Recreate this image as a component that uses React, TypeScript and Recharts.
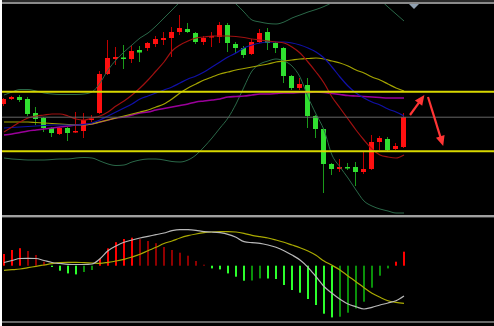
import React from 'react';
import { ComposedChart, Bar, Line, XAxis, YAxis, ReferenceLine } from 'recharts';

// ---------- data (price units of the main panel, oscillator units of the lower panel) ----------
const barIndex = Array.from({ length: 51 }, (_, i) => i);

const opens = [110, 115, 117, 115, 101, 96, 86, 80, 86, 81.5, 83, 94, 101, 140, 155, 156.5, 155, 164, 166, 170, 174, 176, 182, 185, 181, 172, 176.5, 177, 189, 170, 166, 160, 172, 182, 171, 166, 138, 126, 129, 98, 85, 50, 45, 47, 47, 42, 45, 72, 75, 65, 67];
const closes = [115, 117, 114, 100, 95, 86, 81, 86, 81, 83, 94, 95.5, 140, 156, 157, 155, 163, 161.5, 171, 175, 176, 182, 186, 182, 172, 176, 178, 189, 171, 166, 159, 172, 181, 171, 166, 138, 126, 130, 98, 85, 50, 45, 47, 45.5, 42, 45, 72, 76, 64, 68, 97];
const highs = [116, 118, 119, 117, 107, 97, 87, 87, 87, 102, 101, 99, 143, 174, 167, 169, 169, 168, 172, 178, 182, 187, 199, 191, 182, 178, 182, 192, 191, 172, 168, 175, 185, 186, 172, 167, 139, 136, 136, 99, 86, 51, 55, 51, 52, 62, 79, 78, 77, 71, 101];
const lows = [108, 114, 112, 98, 89, 82, 77, 79, 73, 81, 76, 92, 100, 139, 149, 145, 151, 152, 163, 167, 169, 157, 179, 181, 170, 169, 167, 171, 162, 161, 156, 159, 171, 164, 161, 131, 124, 124, 86, 76, 21, 39, 42, 44, 28, 40, 44, 64, 63, 64, 66];

const bbUpper = [119, 122, 124.5, 124.5, 123, 121, 120, 119.5, 119.5, 119.5, 120, 122, 131, 144, 154, 162, 169, 176, 181, 188, 196, 204, 212, 218, 219, 219, 219, 218, 216, 210, 202, 194, 192, 190.5, 190, 192, 196, 199, 202, 204.5, 207.5, 211.5, 217, 220, 220, 219, 217, 214, 207, 200, 193];
const bbMiddle = [86, 86.5, 87, 87.5, 88, 88.5, 89, 89, 89, 89, 89.5, 91, 94, 98, 102, 106, 110, 115, 118, 121, 124, 127, 131, 135, 138, 142, 147, 152, 157, 161, 166, 169, 171, 172, 172, 172, 171, 169, 166, 162, 156, 147, 137, 128, 121, 116, 112, 109, 105, 102, 98];
const bbLower = [56, 55, 54.5, 54, 54, 54, 54.5, 55, 55, 56, 56.5, 56, 53, 50, 48.5, 49, 52, 54, 55, 55, 54, 52.5, 52, 54, 59, 67, 76, 86, 96, 110, 127, 143, 150, 153, 155, 153, 148, 137, 117, 100, 84, 59, 47, 36, 24, 13, 8, 5, 3, 1, 1];
const maFast = [82, 87, 92, 96, 98, 99, 100, 100, 98, 95, 94, 96, 98, 102, 108, 113, 119, 126, 134, 143, 152, 163, 169, 173, 176, 177, 178, 178, 178, 177.5, 176.5, 175, 174, 173, 172, 171, 167, 161, 152, 142, 131, 117, 106, 95, 84, 74, 65, 59, 57, 56, 59];
const maSlow = [92, 92, 92, 92, 91.5, 91, 90.5, 90, 89.5, 89, 89, 90, 92, 94, 96, 98, 100, 102, 104, 107, 110, 115, 121, 126, 130, 134, 137, 140, 142, 144, 145.5, 147, 148.5, 150, 152, 153, 154, 155, 155.5, 156, 155, 153, 151, 148, 144, 141, 137, 134, 130, 126, 123];
const maLong = [79, 80, 81.5, 83, 84, 85, 86, 87, 88, 89, 89.5, 90, 92, 94, 96, 97, 99, 101, 102, 104, 105.5, 107, 108.5, 110, 112, 113, 114, 115, 117, 117.5, 118, 119, 120, 120, 120.5, 121, 121, 121.5, 121.5, 122, 121.5, 120.5, 119.5, 118.5, 118, 117.5, 117, 116.5, 116, 116, 116];

const levelUpper = 122.2;
const levelMid = 96.8;
const levelLower = 62.8;

const arrows = [
  { from: { x: 50.75, y: 99 }, to: { x: 52.55, y: 119 } },
  { from: { x: 53.0, y: 117 }, to: { x: 54.9, y: 68 } },
];

const histogram = [11.7, 15.7, 17.5, 14.7, 10.7, 4, -1.3, -5, -7.7, -8.7, -6.3, -4.3, 6.7, 17.3, 23.5, 26.7, 28, 26.5, 24.7, 22.5, 18.7, 15.7, 13, 10, 4.7, 1, -2.7, -3.7, -7.7, -11, -15, -14.8, -12.7, -12.8, -13.3, -19.3, -24.3, -27, -33.3, -39.3, -48, -51.7, -51, -47, -42.7, -36, -22, -10, -2.7, 4, 14];
const macdLine = [3.2, 5.2, 7.2, 7.4, 7.2, 5.2, 3.2, 2.2, 1.4, 1.2, 1.2, 1.7, 7, 15, 19.7, 23.4, 25.7, 27.7, 29.4, 31, 32.7, 35, 36, 36, 35.4, 34, 33.7, 33, 31.4, 28.4, 24, 23, 22.4, 20.7, 18.4, 15, 10.7, 5.7, -1.6, -11, -20.8, -27.6, -33.6, -38.3, -41, -43.3, -41.6, -39.3, -37.3, -35, -30.3];
const signalLine = [-4.6, -4, -3.3, -2, -0.6, 0.7, 2, 3, 3.4, 3.4, 3, 2.7, 2.4, 3.4, 4.7, 6.4, 8.7, 11.4, 15, 18.4, 22.2, 24.7, 27.7, 30, 31.7, 33, 33.7, 34, 34, 33.7, 32.4, 30.4, 29, 27.7, 25.7, 23.4, 20.7, 18, 14.7, 10.4, 4.7, 0.4, -4.3, -10.3, -16, -22, -27.6, -31.6, -35, -36.6, -37.6];

const axisTicks = [0, 8, 16, 24, 32, 40, 48, 56];

// ---------- styling ----------
const W = 494;
const X_DOMAIN: [number, number] = [-0.5, 61.25];
const UP = '#ff1010';
const DOWN = '#30e030';
const WICK_UP = '#c00000';
const WICK_DOWN = '#1a9a1a';
const HIST_UP = '#ff0000';
const HIST_UP_FADE = '#900000';
const HIST_DN = '#2cff2c';
const HIST_DN_FADE = '#0a900a';

const histColor = (i: number) => {
  const v = histogram[i];
  const prev = i > 0 ? histogram[i - 1] : v - 1;
  if (v >= 0) return v >= prev ? HIST_UP : HIST_UP_FADE;
  return v <= prev ? HIST_DN : HIST_DN_FADE;
};

const priceData = barIndex.map((i) => ({
  i,
  range: [lows[i], highs[i]],
  open: opens[i],
  close: closes[i],
  high: highs[i],
  low: lows[i],
  bbU: bbUpper[i],
  bbM: bbMiddle[i],
  bbL: bbLower[i],
  maF: maFast[i],
  maS: maSlow[i],
  maL: maLong[i],
}));

const oscData = barIndex.map((i) => ({
  i,
  hist: histogram[i],
  histColor: histColor(i),
  macd: macdLine[i],
  signal: signalLine[i],
}));

const Candle = (props: any) => {
  const { x, y, width, height, payload } = props;
  if (!payload || x == null || y == null) return null;
  const { open, close, high, low } = payload;
  const top = Math.min(y, y + height);
  const h = Math.abs(height);
  const k = high > low ? h / (high - low) : 0;
  const py = (v: number) => top + (high - v) * k;
  const up = close >= open;
  const bodyTop = py(Math.max(open, close));
  const bodyH = Math.max(1.5, Math.abs(py(open) - py(close)));
  const bx = Math.round(x + width / 2 - 2.5);
  const cx = bx + 2.5;
  return (
    <g>
      <line x1={cx} x2={cx} y1={top} y2={top + h} stroke={up ? WICK_UP : WICK_DOWN} strokeWidth={1} />
      <rect x={bx} y={bodyTop} width={5} height={bodyH} fill={up ? UP : DOWN} />
    </g>
  );
};

const HistBar = (props: any) => {
  const { x, y, width, height, payload } = props;
  if (!payload || x == null || y == null) return null;
  const top = Math.min(y, y + height);
  const h = Math.max(1, Math.abs(height));
  const bx = Math.round(x + width / 2 - 1);
  return <rect x={bx} y={top} width={2} height={h} fill={payload.histColor} />;
};

const Arrow = (props: any) => {
  const { x1, y1, x2, y2 } = props;
  if ([x1, y1, x2, y2].some((v) => v == null || Number.isNaN(v))) return null;
  const dx = x2 - x1;
  const dy = y2 - y1;
  const len = Math.hypot(dx, dy) || 1;
  const ux = dx / len;
  const uy = dy / len;
  const L = 10;
  const hw = 4.5;
  const bx = x2 - ux * L;
  const by = y2 - uy * L;
  const pts = `${x2},${y2} ${bx - uy * hw},${by + ux * hw} ${bx + uy * hw},${by - ux * hw}`;
  return (
    <g>
      <line x1={x1} y1={y1} x2={bx + ux * 1} y2={by + uy * 1} stroke="#ff3535" strokeWidth={2.2} />
      <polygon points={pts} fill="#ff3535" />
    </g>
  );
};

export default function App() {
  return (
    <div style={{ position: 'absolute', left: 0, top: 0, width: W, height: 326, background: '#000', overflow: 'hidden' }}>
      <div style={{ position: 'absolute', left: 0, top: 0, width: W, height: 2, background: '#2a2a2a' }} />
      <div style={{ position: 'absolute', left: 0, top: 2, width: W, height: 2, background: '#8a8a8a' }} />

      <div style={{ position: 'absolute', left: 0, top: 0 }}>
        <ComposedChart width={W} height={215} data={priceData} margin={{ top: 4, right: 0, bottom: 1, left: 0 }}>
          <XAxis dataKey="i" type="number" domain={X_DOMAIN} hide allowDataOverflow />
          <YAxis type="number" domain={[0, 210]} hide allowDataOverflow />
          <Bar dataKey="range" barSize={5} shape={Candle} isAnimationActive={false} />
          <Line dataKey="bbU" type="monotone" stroke="#2a6848" strokeWidth={1} dot={false} isAnimationActive={false} />
          <Line dataKey="bbL" type="monotone" stroke="#2a6848" strokeWidth={1} dot={false} isAnimationActive={false} />
          <Line dataKey="maL" type="monotone" stroke="#9a009a" strokeWidth={1.6} dot={false} isAnimationActive={false} />
          <Line dataKey="maS" type="monotone" stroke="#a4a400" strokeWidth={1.2} dot={false} isAnimationActive={false} />
          <Line dataKey="bbM" type="monotone" stroke="#1010a8" strokeWidth={1.2} dot={false} isAnimationActive={false} />
          <Line dataKey="maF" type="monotone" stroke="#a01010" strokeWidth={1.2} dot={false} isAnimationActive={false} />
          <ReferenceLine y={levelMid} stroke="#666666" strokeWidth={1} />
          <ReferenceLine y={levelUpper} stroke="#d8d800" strokeWidth={2} />
          <ReferenceLine y={levelLower} stroke="#d8d800" strokeWidth={2} />
          {arrows.map((a, k) => (
            <ReferenceLine key={k} segment={[a.from, a.to]} shape={Arrow} ifOverflow="visible" />
          ))}
        </ComposedChart>
      </div>

      <div style={{ position: 'absolute', left: 0, top: 215, width: W, height: 2, background: '#a0a0a0' }} />
      <div style={{ position: 'absolute', left: 0, top: 217, width: W, height: 1, background: '#404040' }} />

      <div style={{ position: 'absolute', left: 0, top: 218 }}>
        <ComposedChart width={W} height={107} data={oscData} margin={{ top: 0, right: 0, bottom: 0, left: 0 }}>
          <XAxis
            dataKey="i"
            type="number"
            domain={X_DOMAIN}
            allowDataOverflow
            ticks={axisTicks}
            interval={0}
            tick={false}
            tickSize={2}
            height={3}
            axisLine={{ stroke: '#8a8a8a', strokeWidth: 1.5 }}
            tickLine={{ stroke: '#8a8a8a' }}
          />
          <YAxis type="number" domain={[-56.3, 47.7]} hide allowDataOverflow />
          <Bar dataKey="hist" barSize={2} shape={HistBar} isAnimationActive={false} />
          <Line dataKey="signal" type="monotone" stroke="#aaaa00" strokeWidth={1.2} dot={false} isAnimationActive={false} />
          <Line dataKey="macd" type="monotone" stroke="#b8b8b8" strokeWidth={1.2} dot={false} isAnimationActive={false} />
        </ComposedChart>
      </div>

      <svg style={{ position: 'absolute', left: 0, top: 0 }} width={W} height={12}>
        <polygon points="409,4 419,4 414,9" fill="#90a0b0" />
      </svg>
      <div style={{ position: 'absolute', left: 0, top: 0, width: 2, height: 326, background: '#ffffff' }} />
    </div>
  );
}
